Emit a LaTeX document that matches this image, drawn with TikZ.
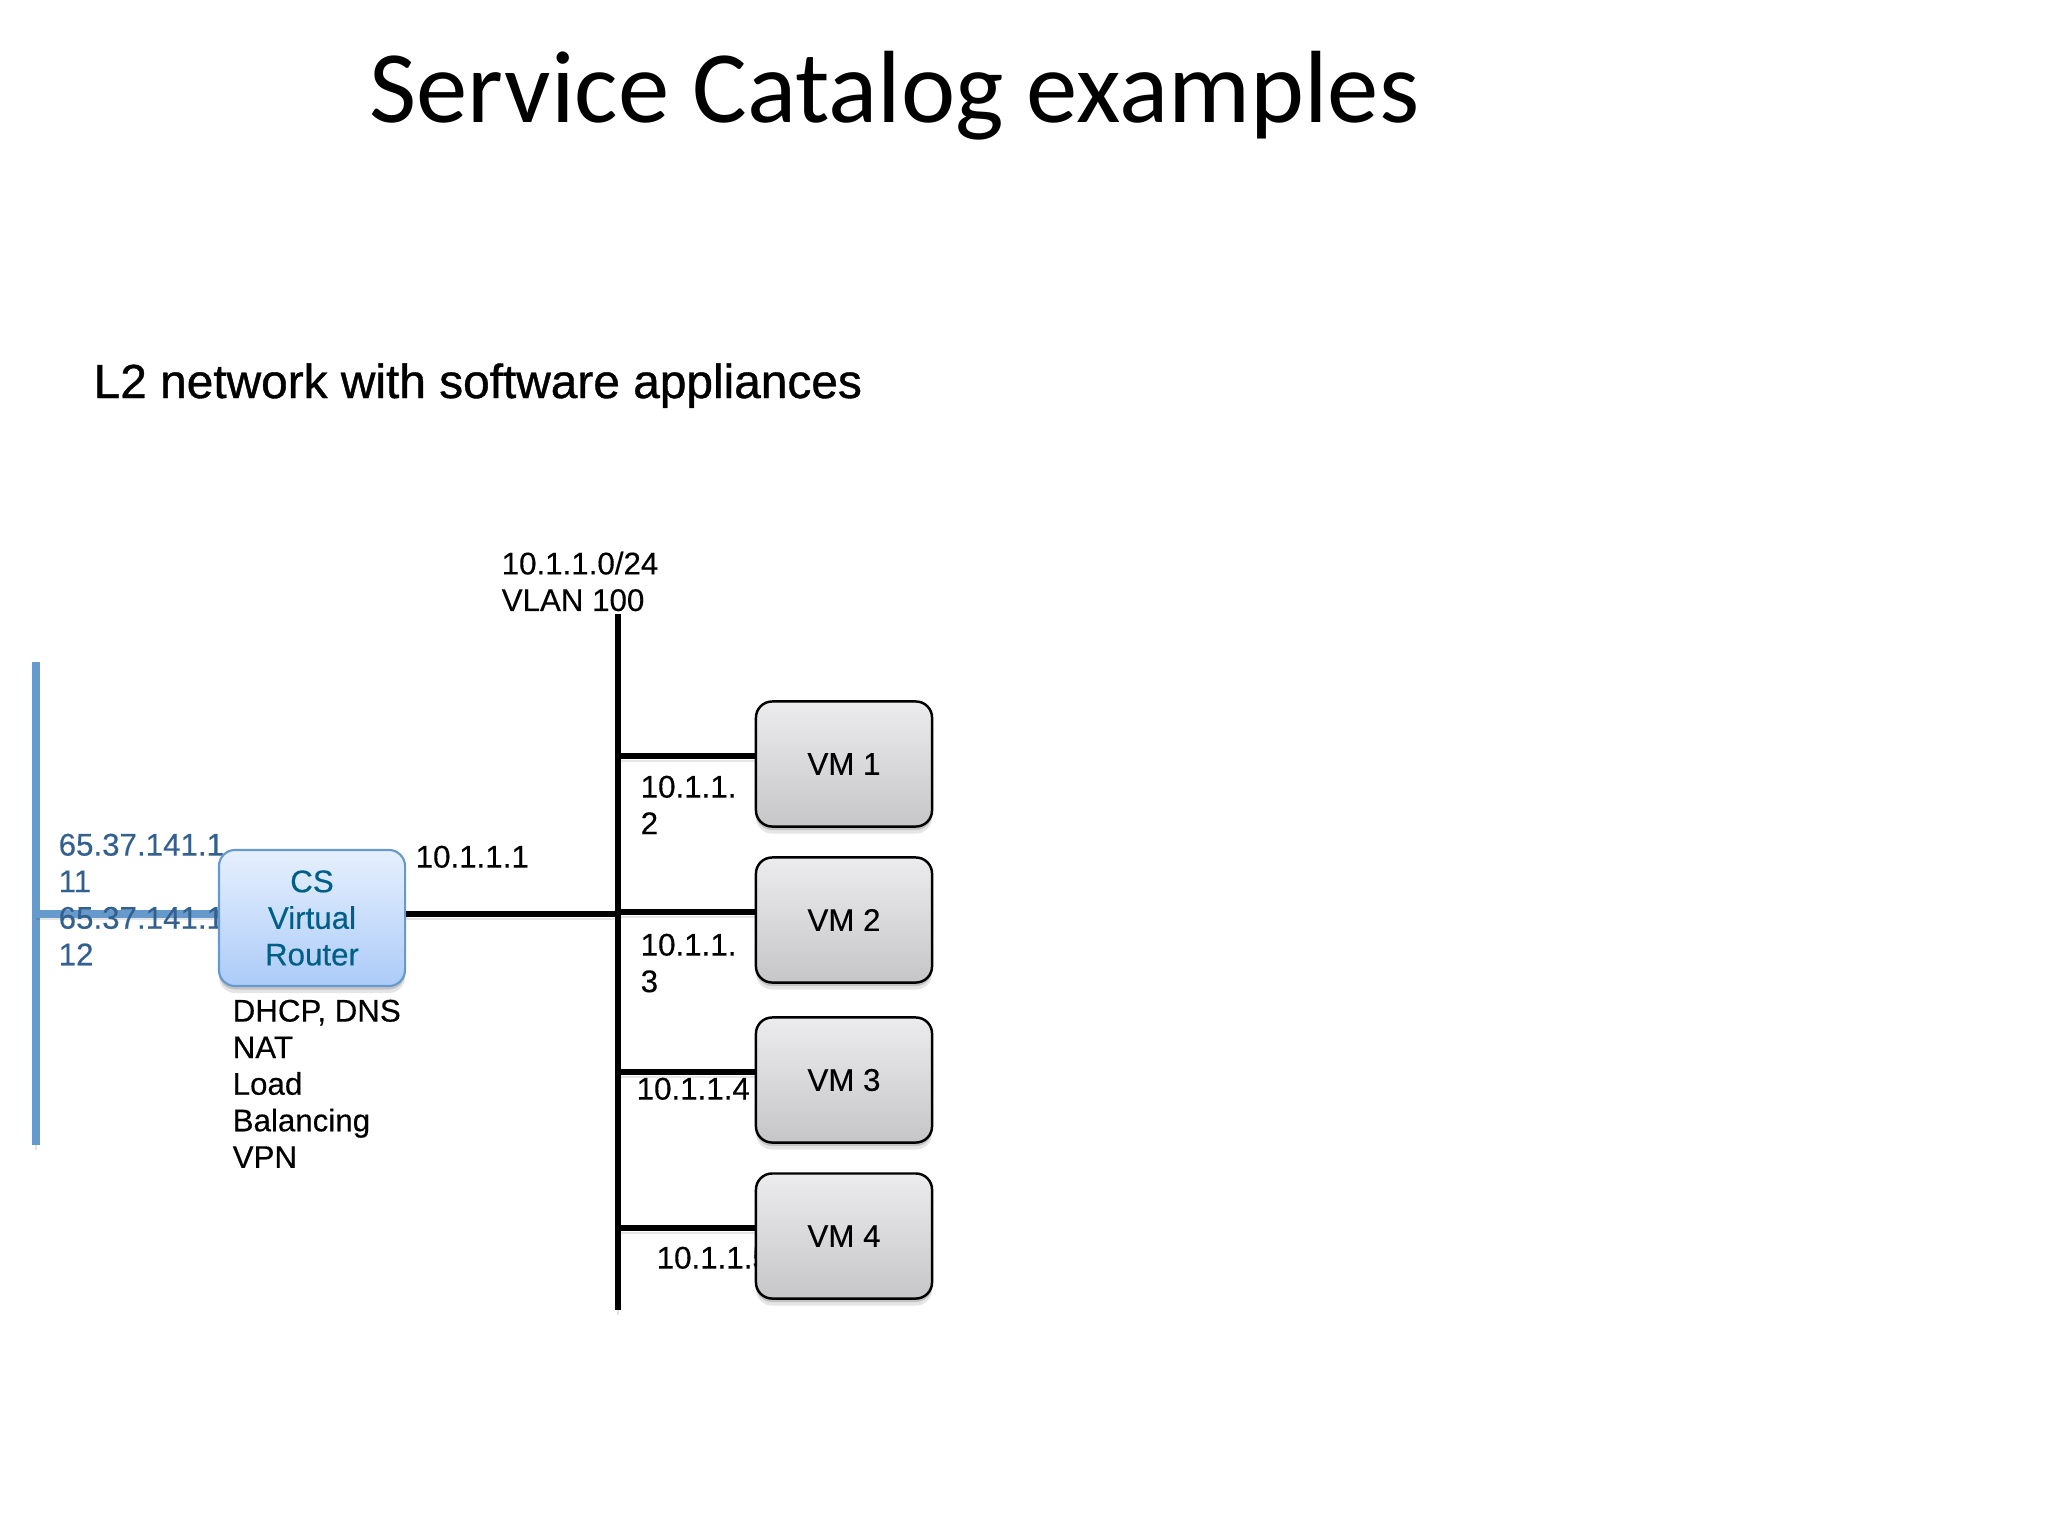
\documentclass[tikz,border=0pt]{standalone}
\usepackage{fontspec}
\setmainfont[FakeBold=0.3]{Liberation Sans}
\newfontfamily\titlefont{Carlito}
\newfontfamily\headfont[FakeBold=0.8]{Liberation Sans}
\usetikzlibrary{shadows}
\definecolor{extblue}{HTML}{6699CC}
\definecolor{extlabel}{HTML}{34608F}
\definecolor{routertext}{HTML}{005F86}
\definecolor{routertop}{HTML}{E6F0FD}
\definecolor{routerbottom}{HTML}{ACCBF8}
\definecolor{vmtop}{HTML}{ECECEE}
\definecolor{vmbottom}{HTML}{C6C6C8}
\tikzset{
    lbl/.style = {anchor = north west, inner sep = 0pt, align = left, font = \fontsize{8.9pt}{10.4pt}\selectfont},
    wireshadow/.style = {preaction = {draw, black, opacity = 0.1, transform canvas = {yshift = -1.4pt}}},
    wire/.style = {line width = 1.7pt, black, wireshadow},
    extwire/.style = {line width = 2.1pt, extblue, wireshadow},
    softshadow/.style = {drop shadow = {shadow xshift = 0pt, shadow yshift = -2pt, opacity = 0.1, fill = black},
        drop shadow = {shadow xshift = 0pt, shadow yshift = -1pt, opacity = 0.15, fill = black}},
    vmbox/.style = {draw = black, line width = 0.7pt, rounded corners = 4.6pt, minimum width = 1.76cm, minimum height = 1.25cm,
        top color = vmtop, bottom color = vmbottom, softshadow, font = \fontsize{8.9pt}{10.4pt}\selectfont},
    routerbox/.style = {draw = extblue, line width = 0.6pt, rounded corners = 4.6pt, minimum width = 1.86cm, minimum height = 1.36cm,
        top color = routertop, bottom color = routerbottom, softshadow, align = center, text = routertext,
        font = \fontsize{8.9pt}{10.4pt}\selectfont},
}
\begin{document}
\begin{tikzpicture}[x = 0.01cm, y = -0.01cm]
        \useasboundingbox (0,0) rectangle (2048,1536);

        \node[anchor = base west, inner sep = 0pt, font = \titlefont\fontsize{29.2pt}{34pt}\selectfont] (title) at (369,122) {Service Catalog examples};
        \node[anchor = base west, inner sep = 0pt, font = \headfont\fontsize{13.6pt}{16pt}\selectfont] (subtitle) at (93,398) {L2 network with software appliances};

        \coordinate (extTop) at (36,662);
        \coordinate (extBottom) at (36,1145);
        \coordinate (extTap) at (36,914);
        \coordinate (busTop) at (618,614);
        \coordinate (busBottom) at (618,1310);
        \coordinate (busRouter) at (618,914);
        \coordinate (tap1) at (618,756);
        \coordinate (tap2) at (618,912);
        \coordinate (tap3) at (618,1072);
        \coordinate (tap4) at (618,1228);

        \draw[extwire] (extTop) -- (extBottom);
        \draw[extwire] (extTap) -- (312,914);
        \draw[wire] (busTop) -- (busBottom);

        \node[lbl, text = extlabel] (extlbl) at (58,833) {65.37.141.1\\11\\65.37.141.1\\12};
        \node[lbl] (routerlbl) at (415,845) {10.1.1.1};
        \node[lbl] (services) at (232,999) {DHCP, DNS\\NAT\\Load\\Balancing\\VPN};
        \node[lbl] (vlan) at (501,551) {10.1.1.0/24\\VLAN 100};
        \node[lbl] (ip2) at (640,775) {10.1.1.\\2};
        \node[lbl] (ip3) at (640,933) {10.1.1.\\3};
        \node[lbl] (ip4) at (636,1077) {10.1.1.4};
        \node[lbl] (ip5) at (656,1246) {10.1.1.5};

        \node[routerbox] (router) at (312,918) {CS\\Virtual\\Router};
        \node[vmbox] (vm1) at (844,764) {VM 1};
        \node[vmbox] (vm2) at (844,920) {VM 2};
        \node[vmbox] (vm3) at (844,1080) {VM 3};
        \node[vmbox] (vm4) at (844,1236) {VM 4};

        \draw[wire] (router.east |- busRouter) -- (busRouter);
        \draw[wire] (tap1) -- (tap1 -| vm1.west);
        \draw[wire] (tap2) -- (tap2 -| vm2.west);
        \draw[wire] (tap3) -- (tap3 -| vm3.west);
        \draw[wire] (tap4) -- (tap4 -| vm4.west);
\end{tikzpicture}
\end{document}
